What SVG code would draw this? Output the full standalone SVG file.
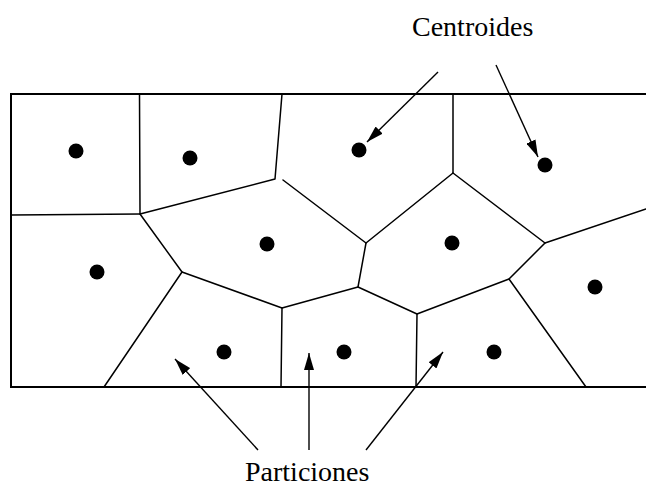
<svg xmlns="http://www.w3.org/2000/svg" width="646" height="489" viewBox="0 0 646 489">
<defs>
<marker id="ah" markerWidth="17" markerHeight="10" refX="17" refY="5" orient="auto" markerUnits="userSpaceOnUse">
<path d="M0,0 L17,5 L0,10 Z" fill="#000"/>
</marker>
<style>
.edge{stroke:#000;stroke-width:1.5;fill:none;stroke-linecap:round;stroke-linejoin:round}
.border{stroke:#000;stroke-width:2;fill:none}
.dot{fill:#000}
.arrow{stroke:#000;stroke-width:1.4;fill:none;marker-end:url(#ah)}
.lbl{font-family:"Liberation Serif","Times New Roman",serif;font-size:28px;fill:#000}
</style>
</defs>
<rect width="646" height="489" fill="#fff"/>
<g id="partitions">
<path class="border" d="M646,94 L11,94 L11,387 L646,387"/>
<g class="edge">
<path d="M11,215 L140,214"/>
<path d="M139.5,94 L140,214 L275,179 L282,94"/>
<path d="M140,214 L182,272 L104,387"/>
<path d="M182,272 L282,308 L281,387"/>
<path d="M282,308 L358,287 L366,243 L283,180"/>
<path d="M366,243 L453,173 L453,94"/>
<path d="M453,173 L545,243 L646,209"/>
<path d="M545,243 L509,279 L417,314 L358,287"/>
<path d="M417,314 L416,387"/>
<path d="M509,279 L586,387"/>
</g>
</g>
<g id="centroids">
<circle class="dot" cx="76" cy="151" r="7.5"/>
<circle class="dot" cx="190" cy="158" r="7.5"/>
<circle class="dot" cx="97" cy="272" r="7.5"/>
<circle class="dot" cx="267" cy="244" r="7.5"/>
<circle class="dot" cx="224" cy="352" r="7.5"/>
<circle class="dot" cx="359" cy="150" r="7.5"/>
<circle class="dot" cx="545" cy="165" r="7.5"/>
<circle class="dot" cx="452" cy="243" r="7.5"/>
<circle class="dot" cx="595" cy="287" r="7.5"/>
<circle class="dot" cx="344" cy="352" r="7.5"/>
<circle class="dot" cx="494" cy="352" r="7.5"/>
</g>
<g id="label-centroides">
<text class="lbl" x="412" y="36">Centroides</text>
</g>
<g id="label-particiones">
<text class="lbl" x="245" y="481">Particiones</text>
</g>
<g id="connectors">
<line class="arrow" x1="438" y1="72" x2="367" y2="142"/>
<line class="arrow" x1="496" y1="65" x2="538" y2="157"/>
<line class="arrow" x1="258" y1="450" x2="175" y2="359"/>
<line class="arrow" x1="309" y1="450" x2="309" y2="353"/>
<line class="arrow" x1="366" y1="450" x2="443" y2="352"/>
</g>
</svg>
